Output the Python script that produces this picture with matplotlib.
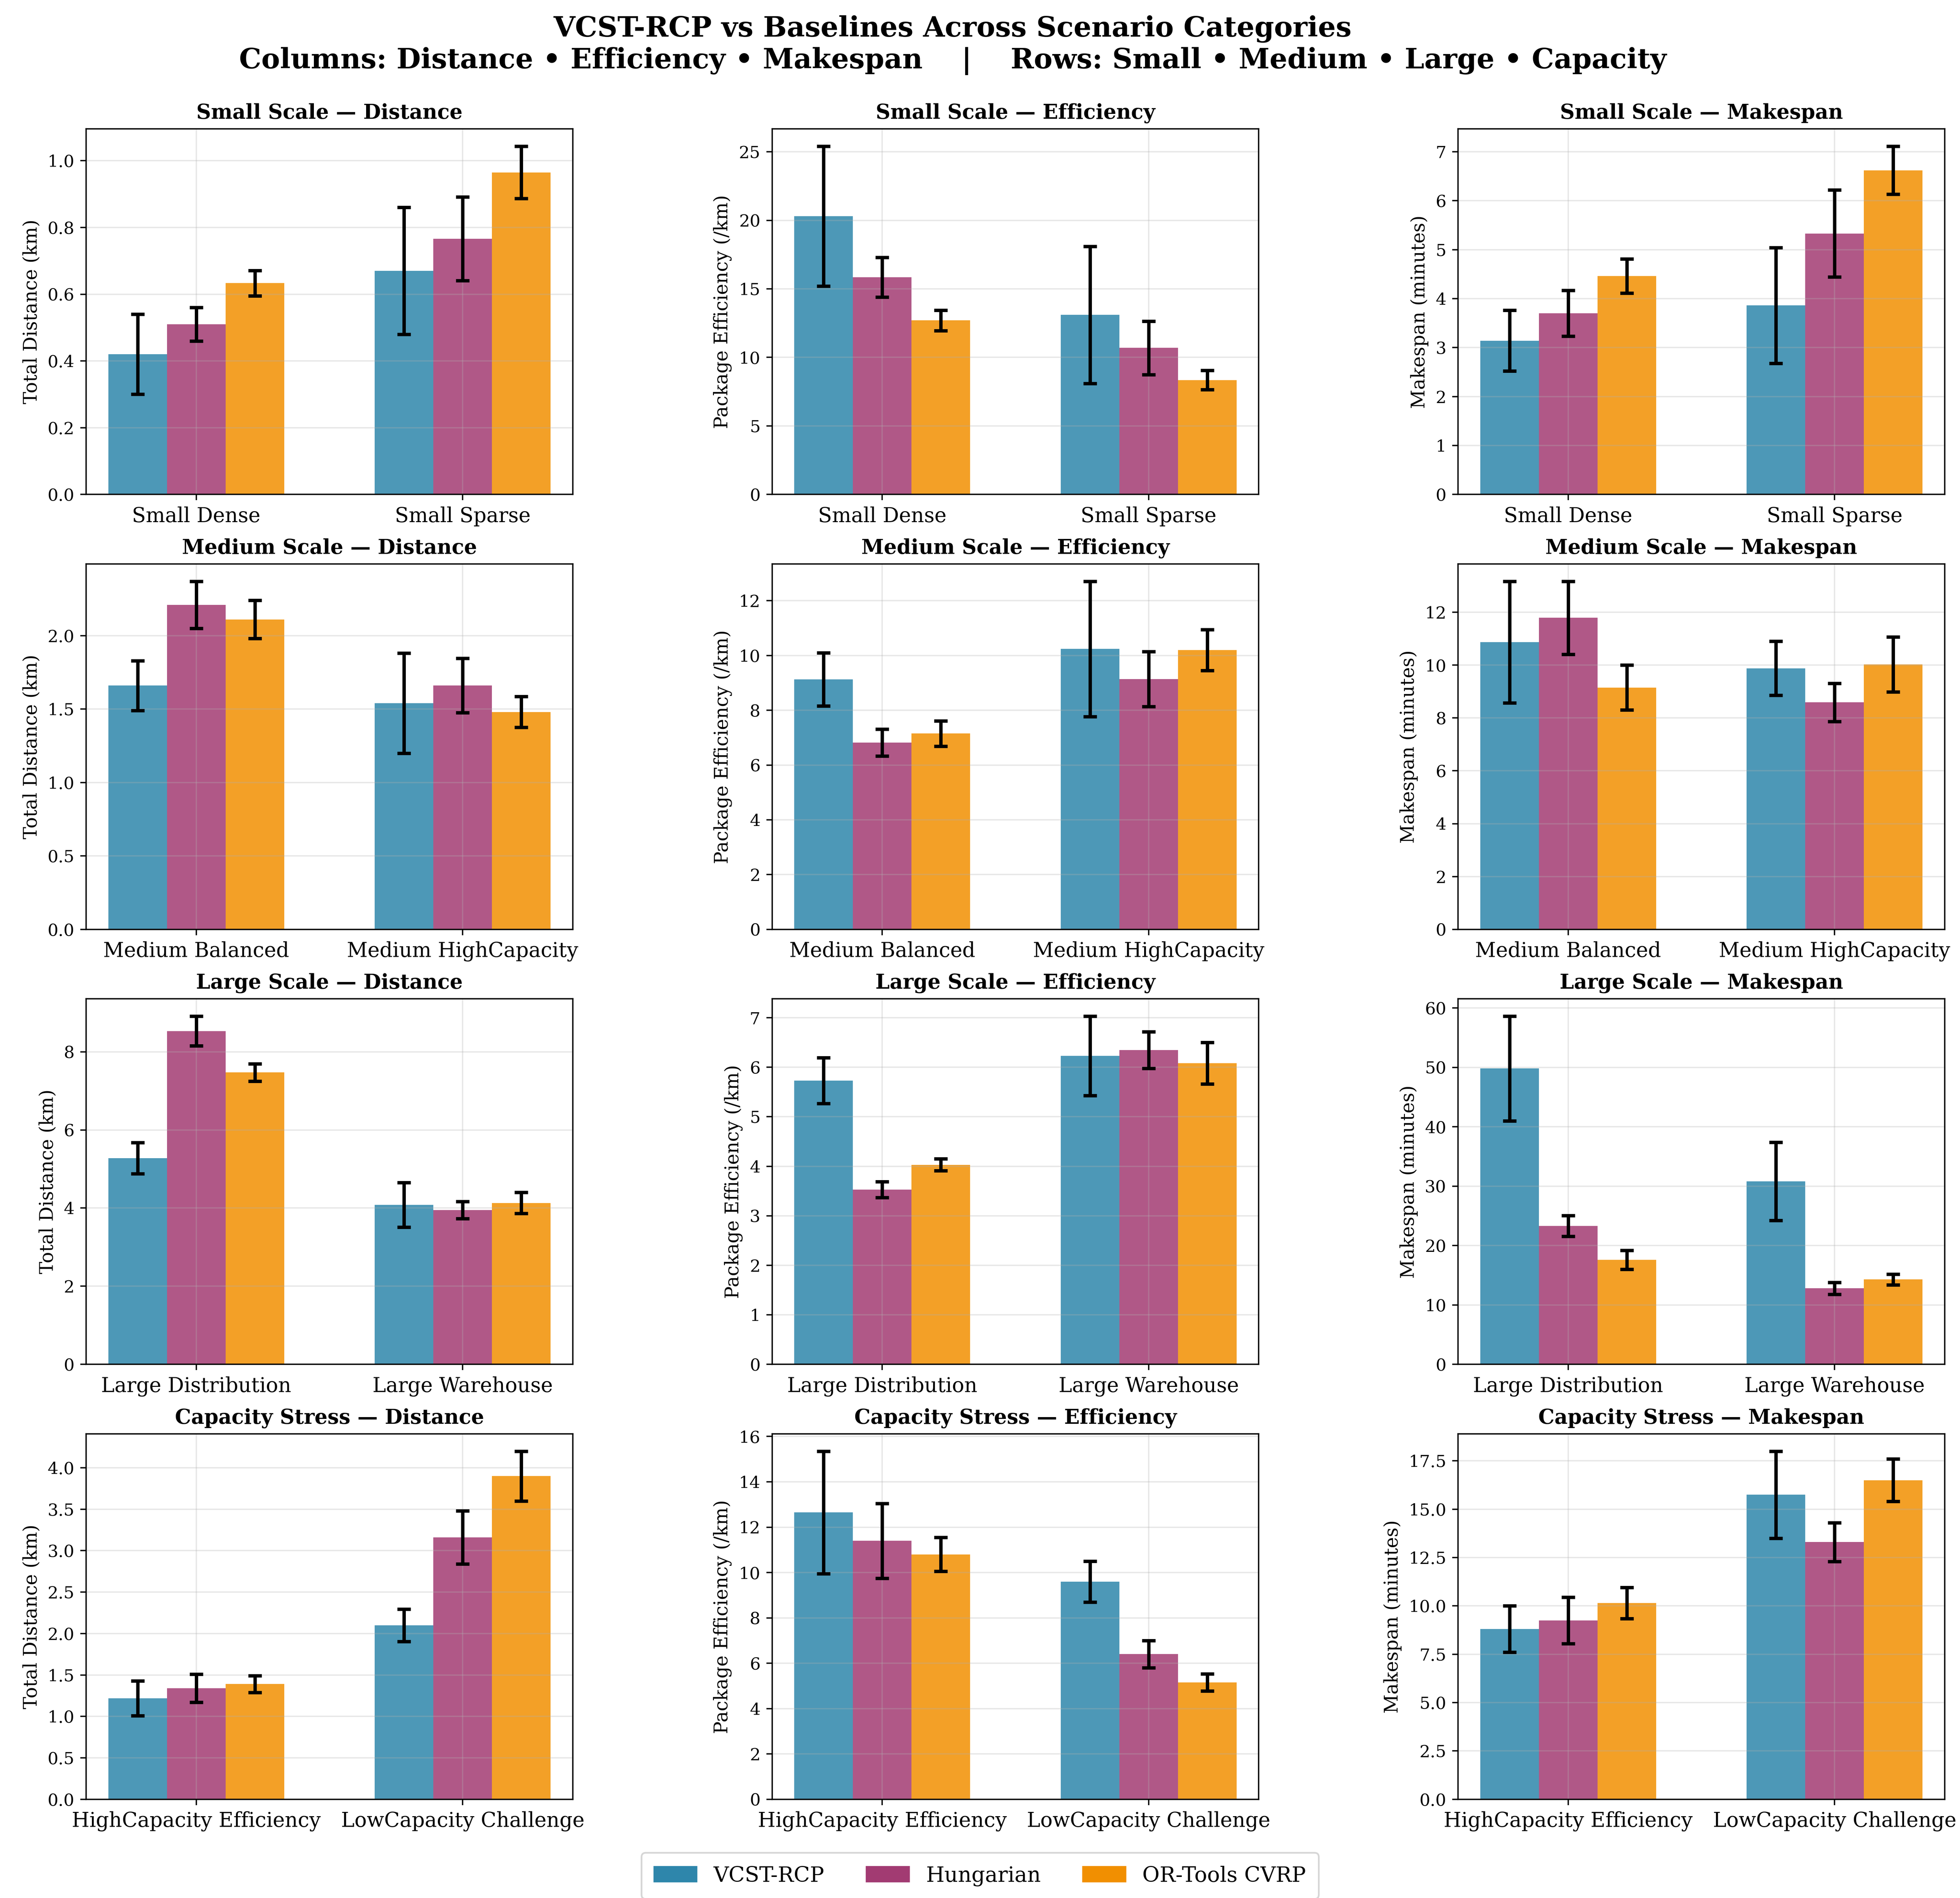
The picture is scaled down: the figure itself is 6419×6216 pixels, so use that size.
import matplotlib
matplotlib.use("Agg")
import matplotlib.pyplot as plt
import numpy as np

plt.rcParams['font.family'] = ['DejaVu Serif']

methods = ["VCST-RCP", "Hungarian", "OR-Tools CVRP"]
colors = ["#2E86AB", "#A23B72", "#F18F01"]

row_names = ["Small Scale", "Medium Scale", "Large Scale", "Capacity Stress"]
col_names = ["Distance", "Efficiency", "Makespan"]
ylabels = ["Total Distance (km)", "Package Efficiency (/km)", "Makespan (minutes)"]

small_cats = ["Small Dense", "Small Sparse"]
medium_cats = ["Medium Balanced", "Medium HighCapacity"]
large_cats = ["Large Distribution", "Large Warehouse"]
capacity_cats = ["HighCapacity Efficiency", "LowCapacity Challenge"]

# values: [method][category]
small_dist = [[0.42, 0.67], [0.51, 0.766], [0.633, 0.965]]
small_dist_err = [[0.12, 0.19], [0.05, 0.125], [0.038, 0.078]]
small_eff = [[20.3, 13.1], [15.85, 10.7], [12.7, 8.35]]
small_eff_err = [[5.1, 5.0], [1.45, 1.95], [0.75, 0.7]]
small_mk = [[3.14, 3.86], [3.7, 5.33], [4.46, 6.62]]
small_mk_err = [[0.62, 1.18], [0.47, 0.89], [0.35, 0.49]]

medium_dist = [[1.66, 1.54], [2.21, 1.66], [2.11, 1.48]]
medium_dist_err = [[0.17, 0.34], [0.16, 0.185], [0.13, 0.105]]
medium_eff = [[9.13, 10.24], [6.82, 9.14], [7.15, 10.2]]
medium_eff_err = [[0.97, 2.47], [0.49, 1.0], [0.46, 0.75]]
medium_mk = [[10.87, 9.88], [11.79, 8.59], [9.15, 10.02]]
medium_mk_err = [[2.3, 1.02], [1.38, 0.72], [0.85, 1.04]]

large_dist = [[5.28, 4.08], [8.53, 3.95], [7.47, 4.13]]
large_dist_err = [[0.4, 0.57], [0.38, 0.22], [0.22, 0.27]]
large_eff = [[5.73, 6.23], [3.53, 6.35], [4.03, 6.08]]
large_eff_err = [[0.46, 0.8], [0.16, 0.37], [0.12, 0.42]]
large_mk = [[49.8, 30.8], [23.3, 12.8], [17.6, 14.3]]
large_mk_err = [[8.8, 6.6], [1.75, 1.0], [1.6, 0.9]]

capacity_dist = [[1.22, 2.1], [1.34, 3.16], [1.39, 3.9]]
capacity_dist_err = [[0.21, 0.195], [0.17, 0.32], [0.1, 0.3]]
capacity_eff = [[12.65, 9.6], [11.4, 6.4], [10.8, 5.15]]
capacity_eff_err = [[2.7, 0.9], [1.65, 0.6], [0.75, 0.38]]
capacity_mk = [[8.8, 15.75], [9.25, 13.3], [10.15, 16.5]]
capacity_mk_err = [[1.2, 2.25], [1.2, 1.0], [0.8, 1.1]]

rows = [
    (small_cats, [(small_dist, small_dist_err), (small_eff, small_eff_err), (small_mk, small_mk_err)]),
    (medium_cats, [(medium_dist, medium_dist_err), (medium_eff, medium_eff_err), (medium_mk, medium_mk_err)]),
    (large_cats, [(large_dist, large_dist_err), (large_eff, large_eff_err), (large_mk, large_mk_err)]),
    (capacity_cats, [(capacity_dist, capacity_dist_err), (capacity_eff, capacity_eff_err), (capacity_mk, capacity_mk_err)]),
]

fig, axes = plt.subplots(4, 3, figsize=(16.09, 15.58), dpi=399)
fig.subplots_adjust(left=0.044, right=0.992, top=0.932, bottom=0.052, wspace=0.41, hspace=0.19)

width = 0.22
for r, (cats, metrics) in enumerate(rows):
    x = np.arange(len(cats))
    for c, (vals, errs) in enumerate(metrics):
        ax = axes[r, c]
        for m in range(3):
            ax.bar(x + (m - 1) * width, vals[m], width, yerr=errs[m], color=colors[m],
                   alpha=0.85, label=methods[m], capsize=4,
                   error_kw=dict(ecolor='black', elinewidth=2, capthick=2))
        ax.set_xticks(x)
        ax.set_xticklabels(cats, fontsize=12)
        ax.tick_params(axis='y', labelsize=10)
        ax.set_ylabel(ylabels[c], fontsize=11)
        ax.set_title(f"{row_names[r]} \u2014 {col_names[c]}", fontsize=12, fontweight='bold')
        ax.grid(True, alpha=0.3)

fig.suptitle("VCST-RCP vs Baselines Across Scenario Categories\n"
             "Columns: Distance \u2022 Efficiency \u2022 Makespan    |    Rows: Small \u2022 Medium \u2022 Large \u2022 Capacity",
             fontsize=16.5, fontweight='bold', x=0.486, y=0.992)

leg_handles = [plt.Rectangle((0, 0), 1, 1, color=col) for col in colors]
fig.legend(leg_handles, methods, loc='lower center', ncol=3, fontsize=12.5,
           bbox_to_anchor=(0.5, -0.006), frameon=True, borderpad=0.6)

fig.savefig("out.png", dpi=399)
